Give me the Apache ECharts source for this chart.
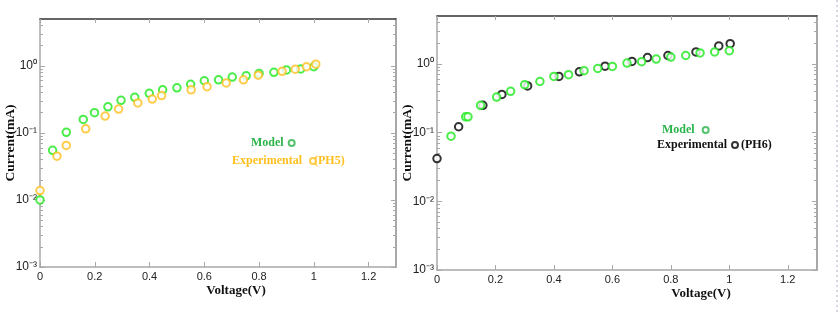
<!DOCTYPE html>
<html>
<head>
<meta charset="utf-8">
<script src="https://cdn.jsdelivr.net/npm/echarts@6/dist/echarts.min.js"></script>
<style>
  html, body { margin: 0; padding: 0; background: #fff; }
</style>
</head>
<body>
<div id="chart" style="width: 838px; height: 314px"></div>
<script>
// PH5 panel (left)
var leftModelV = [0, 0.046, 0.096, 0.158, 0.199, 0.248, 0.296, 0.346, 0.399, 0.448, 0.5, 0.55, 0.6, 0.652, 0.702, 0.753, 0.8, 0.854, 0.9, 0.952, 1.0]
var leftModelI = [0.01, 0.055, 0.102, 0.159, 0.2, 0.245, 0.306, 0.34, 0.39, 0.44, 0.47, 0.53, 0.6, 0.62, 0.68, 0.71, 0.77, 0.8, 0.87, 0.9, 0.97]
var leftExpV = [0, 0.062, 0.096, 0.167, 0.238, 0.287, 0.357, 0.41, 0.444, 0.552, 0.61, 0.68, 0.743, 0.797, 0.884, 0.932, 0.973, 1.007]
var leftExpI = [0.0138, 0.045, 0.065, 0.115, 0.178, 0.227, 0.28, 0.32, 0.36, 0.44, 0.49, 0.556, 0.62, 0.725, 0.83, 0.89, 0.97, 1.06]

// PH6 panel (right)
var rightModelV = [0.048, 0.098, 0.106, 0.149, 0.204, 0.252, 0.3, 0.352, 0.4, 0.45, 0.503, 0.55, 0.6, 0.65, 0.7, 0.75, 0.8, 0.851, 0.9, 0.95, 1.0]
var rightModelI = [0.089, 0.17, 0.17, 0.25, 0.33, 0.4, 0.5, 0.556, 0.66, 0.7, 0.8, 0.86, 0.92, 1.03, 1.08, 1.18, 1.26, 1.33, 1.45, 1.5, 1.56]
var rightExpV = [0, 0.074, 0.157, 0.222, 0.31, 0.417, 0.487, 0.575, 0.667, 0.72, 0.79, 0.886, 0.964, 1.003]
var rightExpI = [0.042, 0.122, 0.25, 0.36, 0.48, 0.66, 0.77, 0.93, 1.09, 1.24, 1.33, 1.5, 1.83, 1.98]

// y tick labels (log axis)
var yTickLabels = { 0.001: '10⁻³', 0.01: '10⁻²', 0.1: '10⁻¹', 1: '10⁰' }
var yMajorTicks = [0.001, 0.01, 0.1, 1]
// log minor ticks 2..9 of every decade
var yMinorTicks = [
  0.002, 0.003, 0.004, 0.005, 0.006, 0.007, 0.008, 0.009,
  0.02, 0.03, 0.04, 0.05, 0.06, 0.07, 0.08, 0.09,
  0.2, 0.3, 0.4, 0.5, 0.6, 0.7, 0.8, 0.9,
  2, 3, 4,
]

var green = '#1de81d'
var greenText = '#2bb44a'
var orange = '#ffbf1f'
var black = '#000000'

function pairs(xs, ys) {
  return xs.map(function (x, i) { return [x, ys[i]] })
}

var serif = '"Liberation Serif", "DejaVu Serif", serif'
var sans = '"Liberation Sans", Arial, sans-serif'

function bottomAxis(grid, namePad) {
  return {
    gridIndex: grid,
    type: 'value',
    min: 0,
    max: 1.3,
    interval: 0.2,
    name: 'Voltage(V)',
    nameLocation: 'middle',
    nameGap: 17,
    nameMoveOverlap: false,
    nameTextStyle: { fontFamily: serif, fontWeight: 'bold', fontSize: 13, color: '#111', padding: [0, 0, 0, namePad] },
    axisLine: { lineStyle: { color: '#a8a8a8', width: 1.5 } },
    axisTick: { inside: true, length: 5, lineStyle: { color: '#a8a8a8' } },
    axisLabel: {
      showMaxLabel: false,
      margin: 4,
      fontFamily: sans,
      fontSize: 11,
      color: '#222',
      formatter: function (v) { return String(+v.toFixed(1)) },
    },
    splitLine: { show: false },
  }
}

function topAxis(grid) {
  return {
    gridIndex: grid,
    type: 'value',
    position: 'top',
    min: 0,
    max: 1.3,
    interval: 0.2,
    axisLine: { lineStyle: { color: '#333', width: 1.5 } },
    axisTick: { inside: true, length: 4, lineStyle: { color: '#a8a8a8' } },
    axisLabel: { show: false },
    splitLine: { show: false },
  }
}

function logAxis(grid, side, main) {
  var ax = {
    gridIndex: grid,
    type: 'log',
    logBase: 10,
    min: 0.001,
    max: 5,
    position: side,
    axisLine: { show: main, lineStyle: { color: '#a8a8a8', width: side == 'left' ? 1.5 : 2 } },
    axisTick: {
      inside: true,
      length: main ? 5 : 3,
      customValues: main ? yMajorTicks : yMinorTicks,
      lineStyle: { color: '#a8a8a8' },
    },
    axisLabel: { show: false },
    splitLine: { show: false },
  }
  if (main && side == 'left') {
    ax.name = 'Current(mA)'
    ax.nameLocation = 'middle'
    ax.nameGap = 22
    ax.nameMoveOverlap = false
    ax.nameTextStyle = { fontFamily: serif, fontWeight: 'bold', fontSize: 13.5, color: '#111' }
    ax.axisLabel = {
      show: true,
      customValues: yMajorTicks,
      margin: 3,
      fontFamily: sans,
      fontSize: 12,
      color: '#222',
      formatter: function (v) { return yTickLabels[v] || '' },
    }
  }
  return ax
}

function scatter(name, data, color, xi, yi) {
  return {
    name: name,
    type: 'scatter',
    xAxisIndex: xi,
    yAxisIndex: yi,
    data: data,
    symbol: 'emptyCircle',
    symbolSize: 7.5,
    itemStyle: { color: color, borderColor: color, borderWidth: 2.2 },
  }
}

function oneLegend(name, left, top, textColor, iconColor) {
  return {
    left: left,
    top: top,
    padding: 0,
    align: 'right',
    itemWidth: 6,
    itemHeight: 6,
    icon: 'circle',
    selectedMode: false,
    textStyle: { fontFamily: serif, fontWeight: 'bold', fontSize: 12 },
    data: [{
      name: name,
      textStyle: { color: textColor },
      itemStyle: { color: '#fff', borderColor: iconColor, borderWidth: 2 },
    }],
  }
}

var chart = echarts.init(document.getElementById('chart'))

var option = {
  backgroundColor: '#fff',
  animation: false,
  grid: [
    { left: 40, top: 19, width: 356, height: 248 },
    { left: 437, top: 16, width: 380, height: 254 },
  ],
  xAxis: [bottomAxis(0, 36), topAxis(0), bottomAxis(1, 148), topAxis(1)],
  yAxis: [
    logAxis(0, 'left', true), logAxis(0, 'left', false), logAxis(0, 'right', true), logAxis(0, 'right', false),
    logAxis(1, 'left', true), logAxis(1, 'left', false), logAxis(1, 'right', true), logAxis(1, 'right', false),
  ],
  legend: [
    oneLegend('Model', 251, 137, greenText, greenText),
    oneLegend('Experimental ', 232, 155, orange, orange),
    oneLegend('Model ', 662, 124, greenText, greenText),
    oneLegend('Experimental', 657, 139, '#111', black),
  ],
  graphic: [
    { type: 'text', left: 314, top: 155, style: { text: '(PH5)', fill: orange, font: 'bold 12px ' + serif } },
    { type: 'text', left: 741, top: 139, style: { text: '(PH6)', fill: '#111', font: 'bold 12px ' + serif } },
    { type: 'line', shape: { x1: 837, y1: 0, x2: 837, y2: 314 }, style: { stroke: '#b4a8c8', lineWidth: 1, lineDash: [2, 3] } },
  ],
  series: [
    scatter('Model', pairs(leftModelV, leftModelI), green, 0, 0),
    scatter('Experimental ', pairs(leftExpV, leftExpI), orange, 0, 0),
    scatter('Experimental', pairs(rightExpV, rightExpI), black, 2, 4),
    scatter('Model ', pairs(rightModelV, rightModelI), green, 2, 4),
  ],
}

chart.setOption(option)
</script>
</body>
</html>
